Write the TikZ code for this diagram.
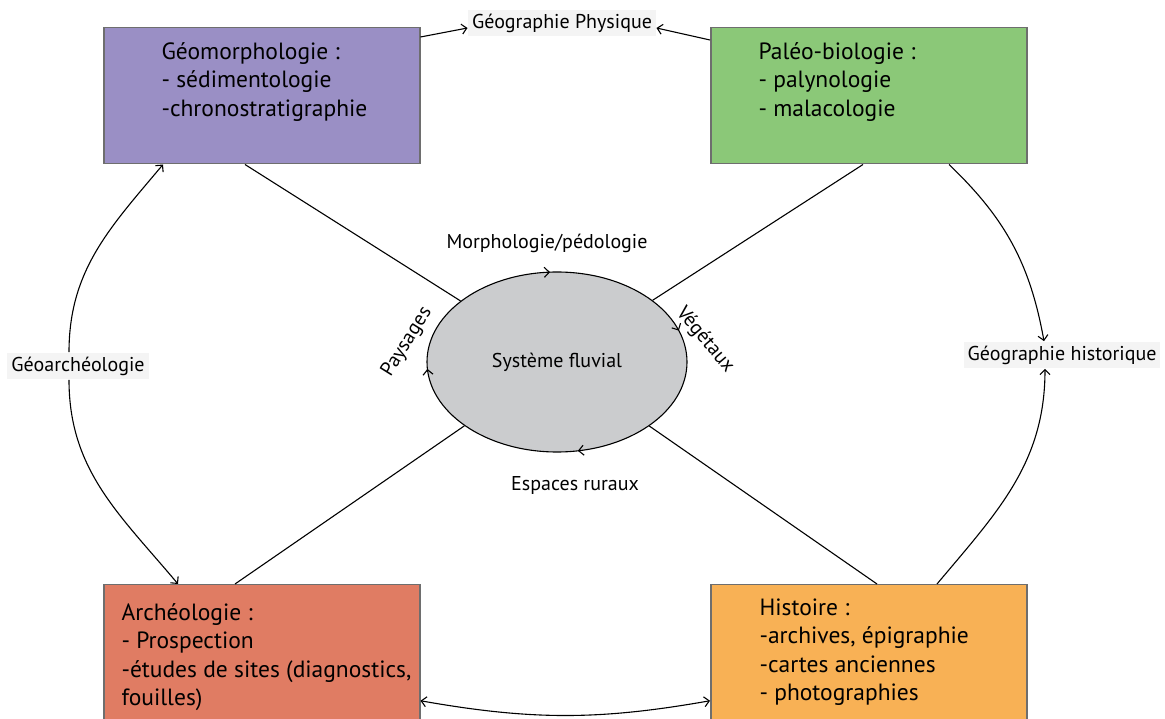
\documentclass[tikz,border=0pt]{standalone}
\usepackage{fontspec}
\setmainfont{PT Sans}
\usetikzlibrary{shapes.geometric,decorations.markings,arrows.meta}

\definecolor{geoviolet}{HTML}{9A8FC5}
\definecolor{paleovert}{HTML}{8BC878}
\definecolor{archeorouge}{HTML}{E07C63}
\definecolor{historange}{HTML}{F8B155}
\definecolor{fluvgris}{HTML}{CBCCCE}
\definecolor{bordgris}{HTML}{6E6E6E}
\definecolor{tagfond}{HTML}{F4F4F4}

\begin{document}
\begin{tikzpicture}[x=1pt,y=1pt,line width=1.1pt,>={Straight Barb[length=5pt,width=10pt]},
  discipline/.style={draw=bordgris,line width=1.5pt,minimum width=316pt,minimum height=136pt,inner sep=0pt,anchor=north west},
  liste/.style={anchor=north west,align=left,inner sep=0pt,font=\fontsize{23.5}{28.5}\selectfont},
  etiquette/.style={fill=tagfond,inner xsep=4pt,inner ysep=4pt,font=\fontsize{20}{22}\selectfont},
  petit/.style={font=\fontsize{20}{22}\selectfont}]
  \useasboundingbox (0,0) rectangle (1165,718);
  % les quatre disciplines
  \node[discipline,fill=geoviolet] (geo) at (103,691) {};
  \node[discipline,fill=paleovert] (paleo) at (710,691) {};
  \node[discipline,fill=archeorouge] (archeo) at (103,134) {};
  \node[discipline,fill=historange] (hist) at (710,134) {};
  \node[liste] (geotxt) at ([xshift=58pt,yshift=-15pt]geo.north west) {Géomorphologie :\\- sédimentologie\\-chronostratigraphie};
  \node[liste] (paleotxt) at ([xshift=48pt,yshift=-15pt]paleo.north west) {Paléo-biologie :\\- palynologie\\- malacologie};
  \node[liste] (archeotxt) at ([xshift=18pt,yshift=-19pt]archeo.north west) {Archéologie :\\- Prospection\\-études de sites (diagnostics,\\fouilles)};
  \node[liste] (histtxt) at ([xshift=49pt,yshift=-14pt]hist.north west) {Histoire :\\-archives, épigraphie\\-cartes anciennes\\- photographies};
  % systeme fluvial
  \draw[fill=fluvgris,postaction={decorate},decoration={markings,
      mark=at position 0.047 with {\arrowreversed{>}},
      mark=at position 0.26 with {\arrowreversed{>}},
      mark=at position 0.51 with {\arrowreversed{>}},
      mark=at position 0.78 with {\arrowreversed{>}}}]
    (557,356) ellipse [x radius=130pt,y radius=90pt];
  \node[ellipse,minimum width=260pt,minimum height=180pt,inner sep=0pt,petit] (sys) at (557,356) {Système fluvial};
  \draw ([xshift=142pt]geo.south west) -- (sys);
  \draw ([xshift=153pt]paleo.south west) -- (sys);
  \draw ([xshift=132pt]archeo.north west) -- (sys);
  \draw ([xshift=167pt]hist.north west) -- (sys);
  \node[petit] (morpho) at (547,475) {Morphologie/pédologie};
  \node[petit] (rural) at (575,232) {Espaces ruraux};
  \node[petit,rotate=-50] (veget) at (705,378) {Végétaux};
  \node[petit,rotate=58] (paysa) at (407,376) {Paysages};
  % geographie
  \node[etiquette] (gphys) at (562,695) {Géographie Physique};
  \draw[->] ([yshift=-10pt]geo.north east) -- ([yshift=-5pt]gphys.west);
  \draw[->] ([yshift=-13pt]paleo.north west) -- ([yshift=-5pt]gphys.east);
  \node[etiquette] (ghist) at (1062,363) {Géographie historique};
  \draw[->] ([xshift=239pt]paleo.south west) to[bend left=18] ([xshift=-18pt]ghist.north);
  \draw[->] ([xshift=227pt]hist.north west) to[out=50,in=-90] ([xshift=-17pt]ghist.south);
  \node[etiquette] (garch) at (78,352) {Géoarchéologie};
  \draw[->] ([xshift=-9pt]garch.north) to[out=90,in=-130] ([xshift=60pt]geo.south west);
  \draw[->] ([xshift=-9pt]garch.south) to[out=-90,in=130] ([xshift=75pt]archeo.north west);
  \draw[<->] ([yshift=-48pt]archeo.east) to[bend right=10] ([yshift=-48pt]hist.west);
\end{tikzpicture}
\end{document}
